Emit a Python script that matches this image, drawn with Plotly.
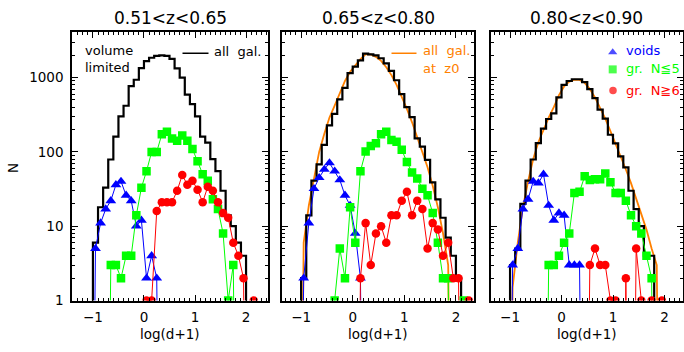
import plotly.graph_objects as go

# ---------------- data (bin centres of log(d+1), bin width 0.1) ----------------
N = None
centers = [-1.05, -0.95, -0.85, -0.75, -0.65, -0.55, -0.45, -0.35, -0.25, -0.15,
           -0.05, 0.05, 0.15, 0.25, 0.35, 0.45, 0.55, 0.65, 0.75, 0.85,
           0.95, 1.05, 1.15, 1.25, 1.35, 1.45, 1.55, 1.65, 1.75, 1.85,
           1.95, 2.05, 2.15, 2.25, 2.35]

titles = ["0.51<z<0.65", "0.65<z<0.80", "0.80<z<0.90"]
xtick_vals = [-1, 0, 1, 2]
ytick_vals = [1, 10, 100, 1000]
ytick_text = ["1", "10", "100", "1000"]

# panel 1 : 0.51<z<0.65
p1_all = [0, 6, 18, 33, 79, 160, 300, 418, 765, 935, 1340, 1660, 1850, 1960, 1990, 1960, 1780,
          1330, 1000, 590, 440, 300, 160, 133, 80, 55, 30, 14, 10, 6, 4, 0, 0, 0, 0]
p1_voids = [0, 5, 11, 17, 22, 36, 40, 26, 22, 10, 12, 2, 4, 2, 0] + [N] * 20
p1_small = [N, N, N, 0, 3, 3, 2, 4, 4, 14, 33, 55, 100, 100, 173, 187, 152, 141, 166, 141,
            109, 75, 50, 41, 23, 17, 8, 1, 3, 0, N, N, N, N, N]
p1_large = [N] * 10 + [0, 1, 1, 16, 21, 21, 21, 30, 49, 36, 41, 31, 21, 34, 30, 21, 15, 13,
                       6, 4, 2, 0, 1, N, N]

# panel 2 : 0.65<z<0.80
p2_all = [0, 2, 14, 41, 68, 124, 228, 324, 510, 725, 1150, 1400, 1700, 2100, 2050, 1990, 1820,
          1550, 1230, 920, 600, 400, 294, 152, 118, 78, 39, 23, 13, 7, 4, 2, 0, 0, 0]
p2_z0 = [0, 6, 19, 42, 100, 175, 290, 420, 630, 900, 1200, 1480, 1770, 2050, 2050, 1900, 1680,
         1380, 1080, 800, 560, 380, 250, 160, 100, 62, 35, 18, 8, 3, 0, N, N, N, N]
p2_voids = [0, 2, 11, 32, 45, 58, 71, 55, 42, 26, 19, 8, 2, 0] + [N] * 21
p2_small = [N] * 6 + [0, 1, 5, 2, 18, 6, 55, 101, 120, 131, 173, 186, 145, 137, 107, 73, 53,
                      44, 32, 26, 15, 6, 2, 2, 0, 0, 1, N, N]
p2_large = [N] * 11 + [0, 2, 11, 3, 8, 10, 6, 14, 14, 22, 29, 14, 22, 17, 5, 11, 9, 4, 6, 2,
                       2, 0, 1, N]

# panel 3 : 0.80<z<0.90
p3_all = [0, 3, 5, 20, 41, 79, 131, 205, 277, 330, 540, 800, 900, 950, 950, 870, 700, 530,
          370, 280, 170, 130, 87, 62, 30, 17, 10, 4, 4, 0, 0, 0, 0, 0, 0]
p3_z0 = [0, 1.5, 6, 18, 40, 80, 135, 200, 290, 400, 580, 760, 880, 940, 930, 850, 700, 540,
         390, 280, 190, 130, 88, 58, 38, 24, 15, 9, 5, 3, 0, N, N, N, N]
p3_voids = [0, 3, 5, 17, 23, 40, 38, 50, 19, 12, 15, 14, 3, 3, 3, 0] + [N] * 19
p3_small = [N] * 7 + [0, 3, 3, 4, 6, 8, 28, 29, 47, 42, 43, 43, 51, 39, 28, 28, 22, 14, 10,
                      8, 4, 2, 0, N, N, N, N, N]
p3_large = [N] * 15 + [0, 3, 5, 3, 3, 1, 1, 0, 2, 0, 5, 1, 0, 1, 0, 1, N, N, N, N]

panels = [
    dict(all=p1_all, z0=None, voids=p1_voids, small=p1_small, large=p1_large),
    dict(all=p2_all, z0=p2_z0, voids=p2_voids, small=p2_small, large=p2_large),
    dict(all=p3_all, z0=p3_z0, voids=p3_voids, small=p3_small, large=p3_large),
]

# ---------------- styling / layout ----------------
W, H = 684, 352
FLOOR = 1e-6
FONT = "DejaVu Sans"
BLUE, GREEN, RED, ORANGE = "#0000ff", "#00ff00", "#ff0000", "#ff8000"
dom_px = [(72, 268), (282, 474), (491, 682.5)]
xranges = [(-1.41, 2.43), (-1.37, 2.35), (-1.37, 2.35)]
ytop, ybot = 33, 307.5
yrange = [0, 3.61]
SYMS = [("voids", BLUE, "triangle-up", 9.5),
        ("small", GREEN, "square", 8.5),
        ("large", RED, "circle", 8.5)]


def clean(vals):
    xs, ys = [], []
    for c, v in zip(centers, vals):
        if v is None:
            continue
        xs.append(c)
        ys.append(v if v > 0 else FLOOR)
    return xs, ys


def steps(vals):
    idx = [i for i, v in enumerate(vals) if v]
    a, b = idx[0], idx[-1]
    xs = [centers[a] - 0.05]
    ys = [FLOOR]
    for i in range(a, b + 1):
        xs.append(centers[i] - 0.05)
        ys.append(vals[i] if vals[i] else FLOOR)
    xs.append(centers[b] + 0.05)
    ys.append(FLOOR)
    return xs, ys


fig = go.Figure()
for k, p in enumerate(panels):
    s = "" if k == 0 else str(k + 1)
    xa, ya = "x" + s, "y" + s
    if p["z0"] is not None:
        xs, ys = clean(p["z0"])
        fig.add_trace(go.Scatter(x=xs, y=ys, mode="lines", xaxis=xa, yaxis=ya,
                                 line=dict(color=ORANGE, width=1.8), showlegend=False))
    xs, ys = steps(p["all"])
    fig.add_trace(go.Scatter(x=xs, y=ys, mode="lines", line_shape="hv", xaxis=xa, yaxis=ya,
                             line=dict(color="black", width=2.2), showlegend=False))
    for key, col, sym, sz in SYMS:
        xs, ys = clean(p[key])
        fig.add_trace(go.Scatter(x=xs, y=ys, mode="lines+markers", xaxis=xa, yaxis=ya,
                                 line=dict(color=col, width=1),
                                 marker=dict(color=col, symbol=sym, size=sz, line=dict(width=0)),
                                 showlegend=False))

tickfont = dict(family=FONT, size=13.5, color="black")
layout = dict(width=W, height=H, margin=dict(l=0, r=0, t=0, b=0),
              paper_bgcolor="white", plot_bgcolor="rgba(0,0,0,0)", showlegend=False)
for k in range(3):
    s = "" if k == 0 else str(k + 1)
    d = dom_px[k]
    layout["xaxis" + s] = dict(
        domain=[d[0] / W, d[1] / W], range=list(xranges[k]), anchor="y" + s,
        tickvals=xtick_vals, ticks="inside", ticklen=6, tickwidth=1, tickcolor="black",
        minor=dict(ticks="inside", ticklen=3, dtick=0.1, tick0=0, tickcolor="black", tickwidth=1),
        showline=True, linecolor="black", linewidth=1.5, mirror="allticks",
        showgrid=False, zeroline=False, tickfont=tickfont, ticklabelstandoff=4)
    layout["yaxis" + s] = dict(
        domain=[1 - ybot / H, 1 - ytop / H], type="log", range=yrange, anchor="x" + s,
        tickvals=ytick_vals, ticktext=ytick_text, showticklabels=(k == 0),
        ticks="inside", ticklen=6, tickwidth=1, tickcolor="black",
        minor=dict(ticks="inside", ticklen=3, tickcolor="black", tickwidth=1,
                   tickvals=[m * 10 ** e for e in range(4) for m in range(2, 10)]),
        showline=True, linecolor="black", linewidth=1.5, mirror="allticks",
        showgrid=False, zeroline=False, tickfont=tickfont, ticklabelstandoff=4)
# overlay axes in pixel coords for legend symbols
layout["xaxis4"] = dict(domain=[0, 1], range=[0, W], visible=False, anchor="y4", fixedrange=True)
layout["yaxis4"] = dict(domain=[0, 1], range=[H, 0], visible=False, anchor="x4", fixedrange=True)
fig.update_layout(**layout)

leg_x = [612.7, 612.7, 613]
leg_y = [53.5, 71, 92.5]
fig.add_trace(go.Scatter(x=leg_x, y=leg_y, xaxis="x4", yaxis="y4", mode="markers",
                         marker=dict(color=[c for _, c, _, _ in SYMS],
                                     symbol=[m for _, _, m, _ in SYMS],
                                     size=[8, 8, 7.5], line=dict(width=0)),
                         showlegend=False, hoverinfo="skip"))

ann = []


def txt(t, x, y, size=13, color="black", xanchor="left", angle=0):
    ann.append(dict(text=t, x=x / W, y=1 - y / H, xref="paper", yref="paper", showarrow=False,
                    xanchor=xanchor, yanchor="middle", textangle=angle,
                    font=dict(family=FONT, size=size, color=color)))


for k in range(3):
    cx = (dom_px[k][0] + dom_px[k][1]) / 2
    txt(titles[k], cx, 18, size=17, xanchor="center")
    txt("log(d+1)", cx, 342, size=13.5, xanchor="center")
txt("N", 13, 172, size=13.5, xanchor="center", angle=-90)
txt("volume", 82.5, 51.5)
txt("limited", 82.5, 69.5)
txt("all\u00a0 gal.", 211.5, 53)
txt("all\u00a0 gal.", 420.5, 52, color=ORANGE)
txt("at\u00a0 z0", 420.5, 70, color=ORANGE)
txt("voids", 624, 52, color=BLUE)
txt("gr.\u00a0 N\u22665", 624, 70.5, color=GREEN)
txt("gr.\u00a0 N\u22676", 624, 93, color=RED)
fig.update_layout(annotations=ann, shapes=[
    dict(type="line", xref="paper", yref="paper", x0=182.5 / W, x1=208.5 / W,
         y0=1 - 54.5 / H, y1=1 - 54.5 / H, line=dict(color="black", width=1.5)),
    dict(type="line", xref="paper", yref="paper", x0=391.5 / W, x1=416.5 / W,
         y0=1 - 54.5 / H, y1=1 - 54.5 / H, line=dict(color=ORANGE, width=1.5)),
])

fig.write_html("out.html")
